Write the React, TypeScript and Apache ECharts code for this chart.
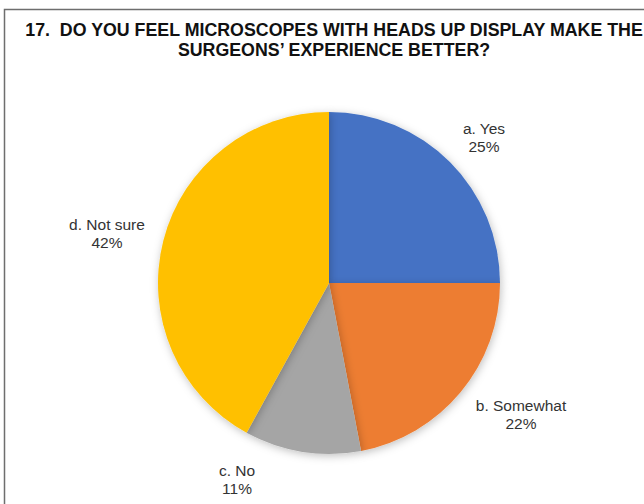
import React, { useEffect, useRef } from "react";
import * as echarts from "echarts";

const categories = ["a. Yes", "b. Somewhat", "c. No", "d. Not sure"];
const percents = [25, 22, 11, 42];
const colors = ["#4472C4", "#ED7D31", "#A5A5A5", "#FFC000"];
const titleLines = [
  "17.  DO YOU FEEL MICROSCOPES WITH HEADS UP DISPLAY MAKE THE",
  "SURGEONS\u2019 EXPERIENCE BETTER?",
];
const labelPos: [number, number][] = [
  [484, 137],
  [521, 414],
  [237, 479],
  [107, 233],
];

export default function App() {
  const ref = useRef<HTMLDivElement>(null);
  useEffect(() => {
    if (!ref.current) return;
    const chart = echarts.init(ref.current, undefined, { renderer: "svg" });
    chart.setOption({
      animation: false,
      backgroundColor: "#ffffff",
      title: {
        text: titleLines.join("\n"),
        left: 329,
        top: 15,
        textAlign: "center",
        textStyle: {
          fontFamily: "Liberation Sans, Arial, sans-serif",
          fontWeight: "bold",
          fontSize: 17.8,
          lineHeight: 20,
          color: "#111111",
        },
      },
      graphic: [
        {
          type: "polyline",
          shape: { points: [[4.5, 504], [4.5, 9.5], [644, 9.5]] },
          style: { stroke: "#6e6e6e", lineWidth: 1.5, fill: null },
          silent: true,
        },
      ],
      series: [
        {
          type: "pie",
          center: [329, 283],
          radius: 171,
          startAngle: 90,
          clockwise: true,
          data: categories.map((c, i) => ({
            name: c,
            value: percents[i],
            itemStyle: { color: colors[i] },
          })),
          itemStyle: {
            borderColor: "#ffffff",
            borderWidth: 0,
            shadowBlur: 8,
            shadowColor: "rgba(0,0,0,0.25)",
            shadowOffsetX: 1,
            shadowOffsetY: 2,
          },
          label: {
            show: true,
            position: "outside",
            formatter: (p: any) => `${p.name}\n${p.value}%`,
            fontFamily: "Liberation Sans, Arial, sans-serif",
            fontSize: 15.5,
            lineHeight: 18,
            color: "#333333",
            align: "center",
          },
          labelLine: { show: false },
          labelLayout: (p: any) => ({
            x: labelPos[p.dataIndex][0],
            y: labelPos[p.dataIndex][1],
            align: "center",
            verticalAlign: "middle",
          }),
          emphasis: { disabled: true },
        },
      ],
    });
    return () => chart.dispose();
  }, []);
  return (
    <div
      ref={ref}
      style={{ position: "fixed", left: 0, top: 0, width: 644, height: 504 }}
    />
  );
}
